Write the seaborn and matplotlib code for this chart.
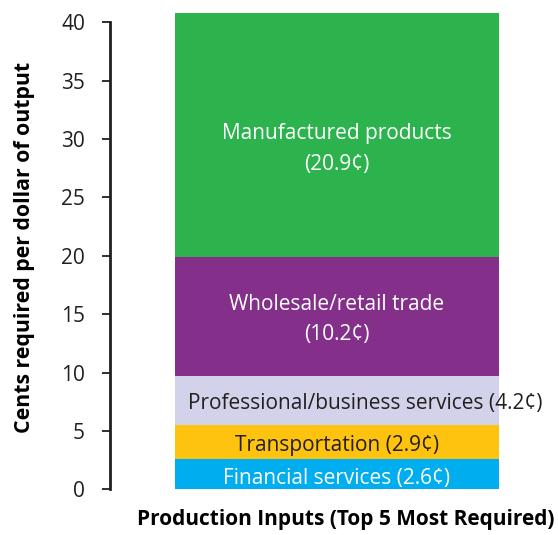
import matplotlib
matplotlib.use("Agg")
import matplotlib.pyplot as plt
import seaborn as sns
import pandas as pd
import numpy as np

# Production inputs, stacked bottom to top
categories = ["Financial services", "Transportation", "Professional/business services",
              "Wholesale/retail trade", "Manufactured products"]
cents = [2.6, 2.9, 4.2, 10.2, 20.9]
colors = ["#00aeef", "#fdc30f", "#d2d3ea", "#84308a", "#2db34d"]
text_colors = ["white", "#231f20", "#231f20", "white", "white"]
label_texts = ["Financial services (2.6¢)", "Transportation (2.9¢)",
               "Professional/business services (4.2¢)",
               "Wholesale/retail trade\n(10.2¢)", "Manufactured products\n(20.9¢)"]
label_dx_pt = [0, 0, 20, 0, 0]
label_dy_pt = [-1, -1, 0, 3, -5]
y_ticks = [0, 5, 10, 15, 20, 25, 30, 35, 40]

sns.set_theme(style="white")
plt.rcParams["font.family"] = ["Open Sans", "DejaVu Sans"]

fig = plt.figure(figsize=(5.58, 5.35), dpi=100)
ax = fig.add_axes([110 / 558, 45.7 / 535, 448 / 558, 478.7 / 535])

group = "Production Inputs"
tops = np.cumsum(cents)
bottoms = tops - np.array(cents)

# Draw cumulative totals from the top segment down so each overlays the next
for i in range(len(cents) - 1, -1, -1):
    df = pd.DataFrame({"group": [group], "value": [tops[i]]})
    sns.barplot(data=df, x="group", y="value", color=colors[i], width=0.8,
                saturation=1, ax=ax, linewidth=0)

for i in range(len(cents)):
    ax.annotate(label_texts[i], xy=(0, bottoms[i] + cents[i] / 2),
                xytext=(label_dx_pt[i], label_dy_pt[i]), textcoords="offset points",
                ha="center", va="center_baseline", color=text_colors[i], fontsize=15,
                linespacing=1.6)

ax.set_xlim(-0.5605, 0.5457)
ax.set_ylim(0, 41)
ax.set_yticks(y_ticks)
ax.set_yticklabels([str(t) for t in y_ticks])
ax.tick_params(axis="y", left=True, length=6, width=1.3, pad=12, labelsize=15,
               colors="#231f20", labelcolor="#231f20")
ax.tick_params(axis="x", bottom=False, labelbottom=False)

for s in ["top", "right", "bottom"]:
    ax.spines[s].set_visible(False)
ax.spines["left"].set_linewidth(2)
ax.spines["left"].set_color("#231f20")
ax.spines["left"].set_bounds(0, 40)

ax.set_xlabel("Production Inputs (Top 5 Most Required)", fontsize=15,
              fontweight="bold", color="black")
ax.xaxis.set_label_coords(0.527, -0.064)
ax.xaxis.label.set_va("center")
ax.set_ylabel("Cents required per dollar of output", fontsize=15.3,
              fontweight="bold", color="black")
ax.yaxis.set_label_coords(-0.19, 0.505)
ax.yaxis.label.set_va("center")

fig.savefig("out.png", dpi=100)
